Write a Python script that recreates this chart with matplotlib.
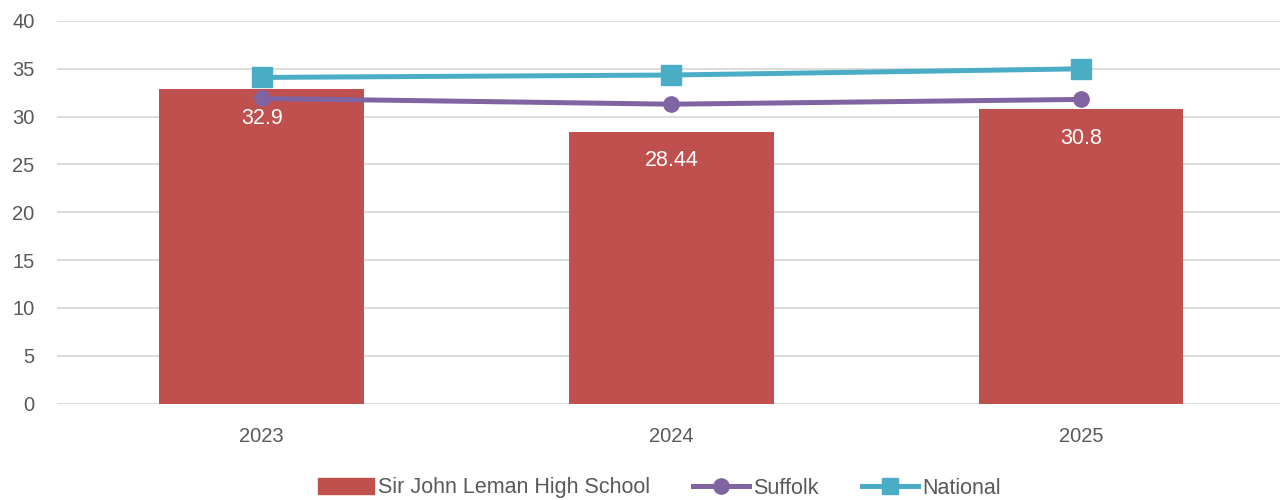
import matplotlib
matplotlib.use('Agg')
import matplotlib.pyplot as plt
from matplotlib.lines import Line2D
from matplotlib.patches import Patch

plt.rcParams['font.family'] = ['Liberation Sans', 'DejaVu Sans']

# Data
years = ['2023', '2024', '2025']
school = [32.9, 28.44, 30.8]
suffolk = [31.9, 31.3, 31.8]
national = [34.1, 34.35, 35.0]

red = '#C0504D'
purple = '#8064A2'
teal = '#4BACC6'
grey = '#595959'

fig = plt.figure(figsize=(12.8, 5), dpi=100)
ax = fig.add_axes([0.0445, 0.193, 0.96, 0.765])

x = range(len(years))
bars = ax.bar(x, school, width=0.5, color=red, zorder=2)
ax.plot(x, suffolk, color=purple, lw=3.6, marker='o', ms=11, zorder=3)
ax.plot(x, national, color=teal, lw=3.6, marker='s', ms=14, zorder=3)

for b, v in zip(bars, school):
    ax.annotate(f'{v:g}', (b.get_x() + b.get_width() / 2, v), xytext=(0, -21),
                textcoords='offset points', ha='center', va='center',
                color='white', fontsize=15.5)

ax.set_xlim(-0.5, 2.5)
ax.set_ylim(0, 40)
ax.set_yticks(range(0, 41, 5))
ax.set_xticks(list(x))
ax.set_xticklabels(years)
ax.tick_params(axis='both', length=0, labelsize=14.5, colors=grey)
ax.tick_params(axis='x', pad=17)
ax.tick_params(axis='y', pad=16)
ax.grid(axis='y', color='#D9D9D9', lw=1.3, zorder=0)
ax.set_axisbelow(True)
for s in ax.spines.values():
    s.set_visible(False)

handles = [Patch(color=red),
           Line2D([], [], color=purple, lw=3.6, marker='o', ms=11),
           Line2D([], [], color=teal, lw=3.6, marker='s', ms=11)]
labels = ['Sir John Leman High School', 'Suffolk', 'National']
fig.legend(handles, labels, loc='center', bbox_to_anchor=(0.515, 0.024), ncol=3,
           frameon=False, fontsize=15.5, labelcolor=grey, handlelength=2.6,
           handletextpad=0.2, columnspacing=2.0)

fig.savefig('out.png', dpi=100)
